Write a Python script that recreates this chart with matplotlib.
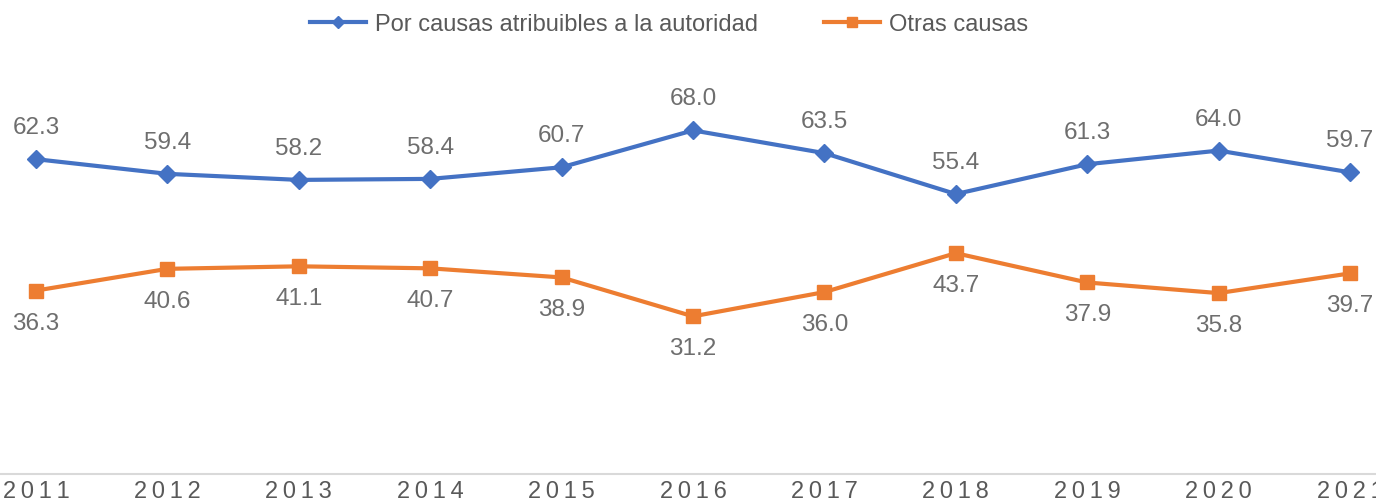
import matplotlib
matplotlib.use("Agg")
import matplotlib.pyplot as plt

years = [2011, 2012, 2013, 2014, 2015, 2016, 2017, 2018, 2019, 2020, 2021]
autoridad = [62.3, 59.4, 58.2, 58.4, 60.7, 68.0, 63.5, 55.4, 61.3, 64.0, 59.7]
otras = [36.3, 40.6, 41.1, 40.7, 38.9, 31.2, 36.0, 43.7, 37.9, 35.8, 39.7]
# year labels are letter-spaced in the original
year_labels = ['\u2009'.join(str(y)) for y in years]

plt.rcParams['font.family'] = ['Liberation Sans', 'DejaVu Sans']
gray = '#595959'
label_gray = '#6E6E6E'
blue = '#4472C4'
orange = '#ED7D31'

fig = plt.figure(figsize=(13.76, 5.02), dpi=100)
ax = fig.add_axes([0, 27 / 502, 1, 475 / 502])

ax.plot(years, autoridad, color=blue, lw=3, marker='D', ms=9,
        label='Por causas atribuibles a la autoridad')
ax.plot(years, otras, color=orange, lw=3, marker='s', ms=10,
        label='Otras causas')

for x, v in zip(years, autoridad):
    ax.annotate(f"{v:.1f}", (x, v), xytext=(0, 23), textcoords='offset points',
                ha='center', va='center', fontsize=17.5, color=label_gray)
for x, v in zip(years, otras):
    ax.annotate(f"{v:.1f}", (x, v), xytext=(0, -23), textcoords='offset points',
                ha='center', va='center', fontsize=17.5, color=label_gray)

ax.set_xlim(2011 - 36 / 131.4, 2021 + 26 / 131.4)
ax.set_ylim(0, 94)
ax.set_xticks(years)
ax.set_xticklabels(year_labels, fontsize=17, color=gray)
ax.set_yticks([])
ax.tick_params(axis='x', length=0, pad=4)
for s in ['top', 'right', 'left']:
    ax.spines[s].set_visible(False)
ax.spines['bottom'].set_color('#D9D9D9')
ax.spines['bottom'].set_linewidth(1.5)

leg = fig.legend(loc='center', bbox_to_anchor=(0.486, 0.95), ncol=2, frameon=False,
                 fontsize=17, handlelength=2.4, columnspacing=2.8,
                 handletextpad=0.35, markerscale=0.7)
for t in leg.get_texts():
    t.set_color(gray)

fig.savefig("out.png", dpi=100)
